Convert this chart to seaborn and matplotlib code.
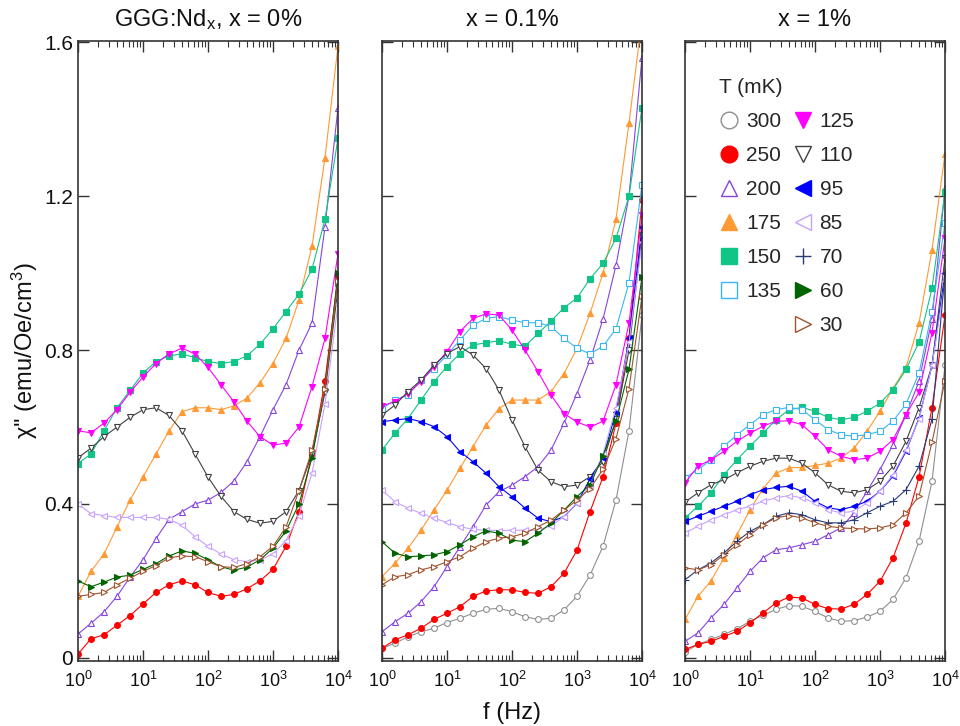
import numpy as np
import pandas as pd
import matplotlib
matplotlib.use("Agg")
import matplotlib.pyplot as plt
from matplotlib.lines import Line2D
from matplotlib.ticker import FixedLocator, LogLocator, NullFormatter, FuncFormatter
import seaborn as sns

# measurement frequencies (Hz), 5 points per decade
freq = [1, 1.585, 2.512, 3.981, 6.310, 10, 15.85, 25.12, 39.81, 63.10, 100,
        158.5, 251.2, 398.1, 631.0, 1000, 1585, 2512, 3981, 6310, 10000]

temps = [300, 250, 200, 175, 150, 135, 125, 110, 95, 85, 70, 60, 30]

# chi'' (emu/Oe/cm^3) for GGG:Nd_x, x = 0%
chi_x0 = {
    250: [0.01, 0.05, 0.06, 0.085, 0.11, 0.14, 0.17, 0.19, 0.20, 0.19, 0.17,
          0.16, 0.165, 0.18, 0.20, 0.23, 0.29, 0.38, 0.53, 0.72, 0.99],
    200: [0.062, 0.09, 0.12, 0.16, 0.21, 0.255, 0.31, 0.36, 0.38, 0.40, 0.41,
          0.43, 0.46, 0.51, 0.575, 0.645, 0.71, 0.80, 0.87, 1.12, 1.43],
    175: [0.16, 0.225, 0.27, 0.34, 0.41, 0.47, 0.53, 0.59, 0.64, 0.65, 0.65,
          0.645, 0.655, 0.675, 0.715, 0.765, 0.83, 0.93, 1.07, 1.30, 1.59],
    150: [0.505, 0.53, 0.59, 0.65, 0.695, 0.74, 0.77, 0.785, 0.79, 0.78, 0.77,
          0.765, 0.77, 0.785, 0.815, 0.855, 0.90, 0.945, 1.01, 1.14, 1.35],
    125: [0.59, 0.585, 0.61, 0.645, 0.69, 0.73, 0.765, 0.79, 0.805, 0.79, 0.755,
          0.71, 0.665, 0.615, 0.575, 0.553, 0.558, 0.60, 0.705, 0.83, 1.05],
    110: [0.52, 0.545, 0.575, 0.60, 0.625, 0.645, 0.65, 0.63, 0.59, 0.53, 0.47,
          0.42, 0.38, 0.36, 0.35, 0.355, 0.38, 0.435, 0.53, 0.69, 0.96],
    85: [0.40, 0.375, 0.37, 0.365, 0.365, 0.365, 0.365, 0.36, 0.345, 0.315, 0.29,
         0.27, 0.255, 0.25, 0.255, 0.27, 0.305, 0.37, 0.48, 0.66, 0.92],
    60: [0.20, 0.185, 0.197, 0.21, 0.215, 0.23, 0.245, 0.265, 0.278, 0.272, 0.255,
         0.237, 0.228, 0.236, 0.255, 0.285, 0.33, 0.40, 0.52, 0.70, 1.0],
    30: [0.16, 0.165, 0.17, 0.19, 0.207, 0.225, 0.24, 0.26, 0.265, 0.263, 0.25,
         0.237, 0.235, 0.245, 0.263, 0.29, 0.34, 0.435, 0.54, 0.70, 0.98],
}

# x = 0.1%
chi_x01 = {
    300: [0.025, 0.038, 0.055, 0.068, 0.077, 0.092, 0.103, 0.116, 0.126, 0.129, 0.12,
          0.107, 0.10, 0.103, 0.125, 0.16, 0.215, 0.29, 0.41, 0.59, 0.89],
    250: [0.025, 0.047, 0.06, 0.077, 0.10, 0.116, 0.133, 0.16, 0.174, 0.177, 0.177,
          0.17, 0.168, 0.185, 0.22, 0.28, 0.38, 0.47, 0.61, 0.83, 1.19],
    200: [0.068, 0.094, 0.116, 0.146, 0.185, 0.237, 0.289, 0.341, 0.397, 0.432, 0.449,
          0.471, 0.497, 0.54, 0.61, 0.687, 0.774, 0.88, 1.02, 1.20, 1.56],
    175: [0.211, 0.246, 0.285, 0.332, 0.384, 0.436, 0.493, 0.549, 0.605, 0.648, 0.67,
          0.67, 0.67, 0.692, 0.739, 0.804, 0.895, 1.0, 1.14, 1.39, 1.66],
    150: [0.54, 0.584, 0.622, 0.67, 0.718, 0.757, 0.791, 0.813, 0.819, 0.824, 0.815,
          0.81, 0.843, 0.875, 0.91, 0.935, 0.985, 1.025, 1.09, 1.20, 1.43],
    135: [0.648, 0.67, 0.683, 0.722, 0.752, 0.787, 0.826, 0.865, 0.882, 0.887, 0.878,
          0.871, 0.871, 0.861, 0.83, 0.805, 0.79, 0.81, 0.855, 0.975, 1.23],
    125: [0.655, 0.666, 0.687, 0.718, 0.757, 0.796, 0.848, 0.882, 0.894, 0.891, 0.852,
          0.80, 0.744, 0.683, 0.635, 0.613, 0.60, 0.615, 0.71, 0.87, 1.15],
    110: [0.631, 0.657, 0.692, 0.722, 0.761, 0.791, 0.809, 0.787, 0.752, 0.696, 0.618,
          0.549, 0.488, 0.458, 0.445, 0.449, 0.471, 0.51, 0.62, 0.80, 1.10],
    95: [0.614, 0.618, 0.622, 0.614, 0.601, 0.575, 0.536, 0.51, 0.48, 0.445, 0.419,
         0.389, 0.363, 0.354, 0.367, 0.402, 0.465, 0.52, 0.64, 0.83, 1.12],
    85: [0.436, 0.406, 0.389, 0.376, 0.363, 0.352, 0.341, 0.334, 0.332, 0.331, 0.332,
         0.332, 0.332, 0.343, 0.367, 0.402, 0.45, 0.53, 0.65, 0.82, 1.08],
    60: [0.302, 0.272, 0.263, 0.265, 0.268, 0.276, 0.294, 0.315, 0.33, 0.324, 0.306,
         0.302, 0.324, 0.35, 0.384, 0.419, 0.45, 0.525, 0.615, 0.75, 0.99],
    30: [0.19, 0.211, 0.216, 0.229, 0.237, 0.25, 0.263, 0.285, 0.302, 0.311, 0.315,
         0.324, 0.341, 0.358, 0.384, 0.41, 0.44, 0.49, 0.57, 0.70, 0.94],
}

# x = 1%
chi_x1 = {
    300: [0.016, 0.035, 0.048, 0.061, 0.076, 0.095, 0.111, 0.126, 0.136, 0.134, 0.121,
          0.104, 0.095, 0.097, 0.106, 0.121, 0.152, 0.208, 0.303, 0.459, 0.76],
    250: [0.022, 0.035, 0.043, 0.056, 0.069, 0.091, 0.117, 0.143, 0.158, 0.156, 0.139,
          0.128, 0.127, 0.139, 0.165, 0.199, 0.26, 0.35, 0.47, 0.65, 0.89],
    200: [0.043, 0.065, 0.104, 0.139, 0.182, 0.225, 0.26, 0.281, 0.286, 0.294, 0.303,
          0.32, 0.338, 0.377, 0.433, 0.489, 0.554, 0.632, 0.719, 0.88, 1.22],
    175: [0.10, 0.16, 0.20, 0.26, 0.32, 0.385, 0.44, 0.48, 0.494, 0.495, 0.50,
          0.506, 0.519, 0.545, 0.589, 0.641, 0.70, 0.755, 0.87, 1.06, 1.31],
    150: [0.364, 0.394, 0.429, 0.476, 0.515, 0.55, 0.584, 0.619, 0.645, 0.651, 0.641,
          0.625, 0.619, 0.625, 0.641, 0.662, 0.697, 0.75, 0.82, 0.96, 1.21],
    135: [0.468, 0.489, 0.515, 0.55, 0.58, 0.606, 0.632, 0.645, 0.651, 0.645, 0.619,
          0.593, 0.58, 0.576, 0.58, 0.589, 0.615, 0.66, 0.74, 0.90, 1.13],
    125: [0.455, 0.498, 0.515, 0.537, 0.563, 0.584, 0.602, 0.615, 0.616, 0.606, 0.576,
          0.541, 0.524, 0.515, 0.519, 0.537, 0.567, 0.632, 0.69, 0.845, 1.09],
    110: [0.405, 0.429, 0.45, 0.463, 0.481, 0.498, 0.511, 0.519, 0.519, 0.506, 0.481,
          0.45, 0.433, 0.429, 0.437, 0.459, 0.498, 0.563, 0.65, 0.76, 1.04],
    95: [0.355, 0.368, 0.381, 0.394, 0.407, 0.424, 0.437, 0.443, 0.446, 0.433, 0.407,
         0.39, 0.385, 0.394, 0.407, 0.433, 0.472, 0.537, 0.623, 0.76, 1.0],
    85: [0.325, 0.342, 0.359, 0.372, 0.385, 0.394, 0.407, 0.416, 0.422, 0.416, 0.403,
         0.385, 0.377, 0.381, 0.403, 0.433, 0.476, 0.541, 0.62, 0.76, 0.98],
    70: [0.203, 0.229, 0.247, 0.273, 0.303, 0.329, 0.346, 0.368, 0.377, 0.372, 0.359,
         0.351, 0.351, 0.359, 0.377, 0.394, 0.407, 0.437, 0.498, 0.62, 1.0],
    30: [0.234, 0.229, 0.242, 0.268, 0.294, 0.32, 0.346, 0.364, 0.37, 0.364, 0.351,
         0.342, 0.338, 0.336, 0.335, 0.338, 0.346, 0.377, 0.42, 0.56, 0.72],
}

panels = [chi_x0, chi_x01, chi_x1]
titles = ["GGG:Nd$_{x}$, x = 0%", "x = 0.1%", "x = 1%"]

colors = {300: "#8f8f8f", 250: "#ff0000", 200: "#8644e0", 175: "#ff9933",
          150: "#10c585", 135: "#39b6f2", 125: "#ff00ff", 110: "#404040",
          95: "#0000ff", 85: "#c6a2ff", 70: "#2a3c78", 60: "#006400", 30: "#a0522d"}
markers = {300: "o", 250: "o", 200: "^", 175: "^", 150: "s", 135: "s", 125: "v",
           110: "v", 95: "<", 85: "<", 70: "+", 60: ">", 30: ">"}
filled = {300: False, 250: True, 200: False, 175: True, 150: True, 135: False,
          125: True, 110: False, 95: True, 85: False, 70: True, 60: True, 30: False}
msize = {"o": 4.2, "^": 4.8, "v": 4.8, "<": 4.8, ">": 4.8, "s": 3.9, "+": 5.5}

sns.set_theme(style="white")
plt.rcParams["font.family"] = ["Liberation Sans", "DejaVu Sans"]
plt.rcParams["mathtext.fontset"] = "custom"
plt.rcParams["mathtext.rm"] = "Liberation Sans"
plt.rcParams["mathtext.it"] = "Liberation Sans"
plt.rcParams["mathtext.default"] = "regular"

fig = plt.figure(figsize=(9.6, 7.26), dpi=100)
lefts = [78, 382, 685]
axes = []
for i, data in enumerate(panels):
    ax = fig.add_axes([lefts[i] / 960, 65 / 726, 260 / 960, 620 / 726])
    axes.append(ax)
    for T in temps:
        if T not in data:
            continue
        c = colors[T]
        sns.lineplot(x=freq, y=data[T], ax=ax, color=c, lw=0.8,
                     marker=markers[T], markersize=msize[markers[T]],
                     markerfacecolor=c if filled[T] else "white",
                     markeredgecolor=c, markeredgewidth=0.8,
                     legend=False, errorbar=None)
    ax.set_xscale("log")
    ax.set_xlim(1, 1e4)
    ax.set_ylim(-0.008, 1.603)
    ax.yaxis.set_major_locator(FixedLocator([0, 0.4, 0.8, 1.2, 1.6]))
    ax.xaxis.set_major_locator(LogLocator(base=10, numticks=10))
    ax.xaxis.set_minor_locator(LogLocator(base=10, subs=np.arange(2, 10), numticks=20))
    ax.xaxis.set_minor_formatter(NullFormatter())
    ax.tick_params(which="both", direction="in", top=True, right=True,
                   bottom=True, left=True, colors="#333333", labelcolor="#111111")
    ax.tick_params(which="major", length=8, width=1)
    ax.tick_params(which="minor", length=4.5, width=0.8)
    ax.tick_params(axis="x", labelsize=13, pad=7)
    ax.tick_params(axis="y", labelsize=15)
    for s in ax.spines.values():
        s.set_color("#333333")
        s.set_linewidth(1.2)
    ax.set_xlabel("")
    ax.set_ylabel("")
    ax.set_title(titles[i], fontsize=17, pad=11, color="#111111")
    if i == 0:
        ax.yaxis.set_major_formatter(FuncFormatter(lambda v, p: "0" if v == 0 else f"{v:.1f}"))
        ax.set_ylabel("\u03c7'' (emu/Oe/cm$^{3}$)", fontsize=17, labelpad=3, color="#111111")
    else:
        ax.set_yticklabels([])

axes[1].set_xlabel("f (Hz)", fontsize=17, labelpad=8, color="#111111")

# legend in the right panel
handles = []
labels = []
for T in temps:
    c = colors[T]
    h = Line2D([], [], ls="none", marker=markers[T], markersize=12 if markers[T] != "s" else 11,
               markerfacecolor=c if filled[T] else "white", markeredgecolor=c,
               markeredgewidth=1.0)
    handles.append(h)
    labels.append(str(T))
    if T == 135:
        handles.append(Line2D([], [], ls="none"))
        labels.append("")
leg = axes[2].legend(handles, labels, ncol=2, loc="upper left",
                     bbox_to_anchor=(0.09, 0.957), frameon=False,
                     title="T (mK)", title_fontsize=15, fontsize=15,
                     handlelength=1.0, handletextpad=0.3, columnspacing=0.55,
                     labelspacing=0.72, borderpad=0, alignment="left")

fig.savefig("out.png", dpi=100)
